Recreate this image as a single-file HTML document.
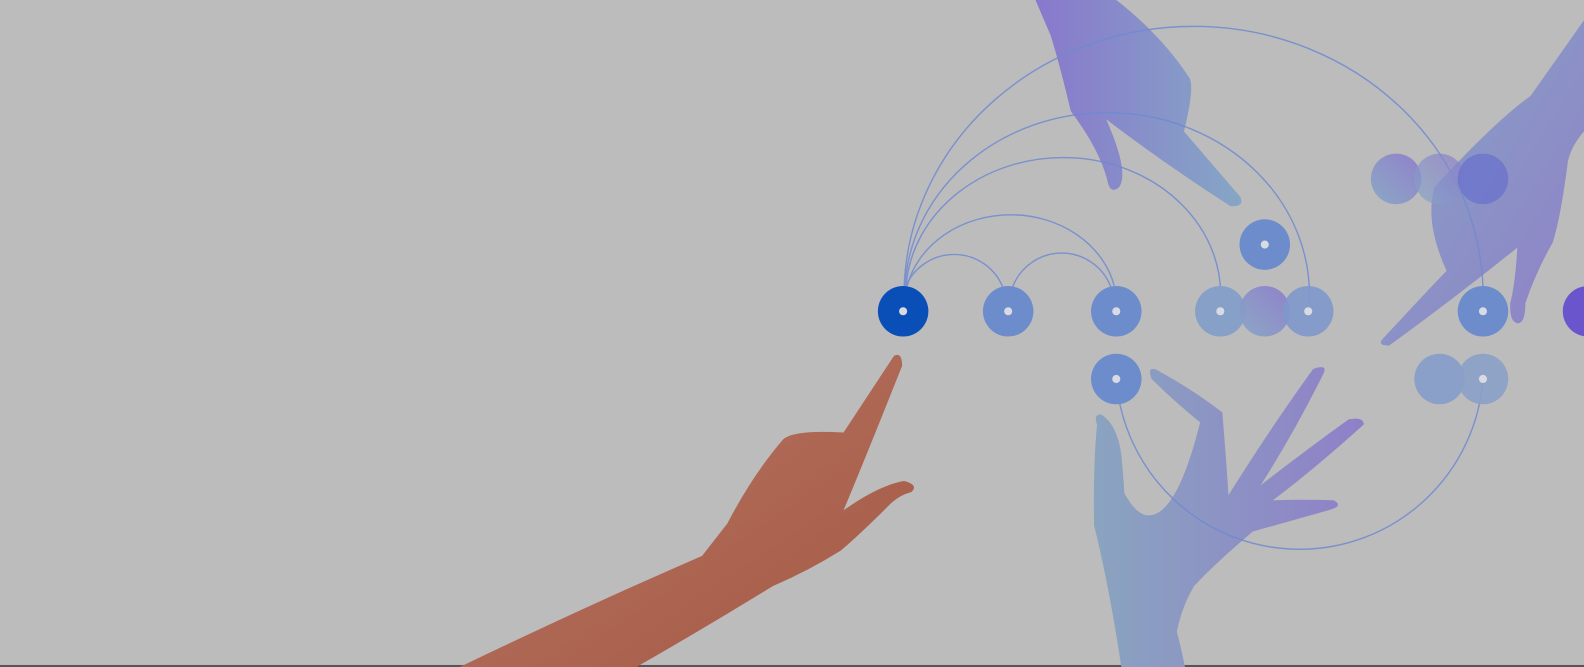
<!DOCTYPE html>
<html><head><meta charset="utf-8"><style>
html,body{margin:0;padding:0;background:#bcbcbc;overflow:hidden}
svg{display:block}
</style></head><body>
<svg width="1584" height="667" viewBox="0 0 1568 660" preserveAspectRatio="none" xmlns="http://www.w3.org/2000/svg">
<defs>
<linearGradient id="gSkin" x1="0" y1="0" x2="1" y2="1"><stop offset="0" stop-color="#b87563"/><stop offset="1" stop-color="#a45a45"/></linearGradient>
<linearGradient id="gBlue" x1="0" y1="0" x2="1" y2="0"><stop offset="0" stop-color="#8aa4c0"/><stop offset="1" stop-color="#8f80c8"/></linearGradient>
<linearGradient id="gTop" x1="0" y1="0" x2="1" y2="0"><stop offset="0" stop-color="#8878cc"/><stop offset="1" stop-color="#86a6c6"/></linearGradient>
<linearGradient id="gRight" x1="0" y1="0" x2="1" y2="1"><stop offset="0" stop-color="#86a4c4"/><stop offset="1" stop-color="#9080c8"/></linearGradient>
<linearGradient id="gDot" x1="0" y1="1" x2="1" y2="0"><stop offset="0" stop-color="#86a6c6"/><stop offset="1" stop-color="#8b7acc"/></linearGradient>
</defs>
<rect x="0" y="0" width="1568" height="660" fill="#bcbcbc"/>
<rect x="0" y="658" width="1568" height="2" fill="#555"/>
<path fill="url(#gTop)" d="M1025 0 L1105 0 Q1150 35 1178 78 Q1182 90 1172 130 L1228 195 Q1232 205 1218 204 Q1150 160 1095 118 Q1118 170 1108 185 Q1100 192 1097 182 Q1090 150 1060 110 Q1048 60 1040 35 Z"/>
<path fill="url(#gRight)" d="M1568 20 L1568 130 Q1555 145 1552 160 Q1545 215 1537 240 Q1520 270 1510 300 Q1510 320 1502 320 Q1494 318 1495 300 Q1500 280 1502 245 Q1440 295 1375 342 Q1362 342 1370 334 Q1420 280 1432 268 Q1410 220 1420 185 Q1480 120 1515 95 Z"/>
<path fill="url(#gBlue)" d="M1110 660 Q1098 580 1083 520 Q1082 460 1086 420 Q1082 410 1090 410 Q1106 420 1110 450 Q1112 470 1113 488 Q1125 510 1137 510 Q1165 510 1188 418 Q1160 395 1140 375 Q1135 362 1145 366 Q1180 385 1210 408 Q1215 470 1216 490 Q1260 420 1300 365 Q1315 360 1310 370 Q1280 430 1248 480 Q1300 440 1335 415 Q1350 412 1350 420 Q1300 465 1260 495 Q1290 494 1320 495 Q1330 500 1318 504 Q1290 512 1240 526 Q1200 560 1182 580 Q1170 600 1165 625 Q1170 645 1173 660 Z"/>
<g fill="none" stroke="#6f8ad0" stroke-width="1.4" opacity="0.85">
<path d="M896 285 A52 52 0 0 1 993 285"/>
<path d="M1002 285 A52 52 0 0 1 1100 285"/>
<path d="M898 283 A105 90 0 0 1 1103 283"/>
<path d="M897 283 A155 135 0 0 1 1208 300"/>
<path d="M896 283 A200 180 0 0 1 1296 300"/>
<path d="M895 285 A285 265 0 0 1 1468 300"/>
<path d="M1105 375 A182 182 0 0 0 1468 375"/>
</g>
<path fill="url(#gSkin)" d="M455 660 Q580 600 695 550 L720 518 Q745 470 775 435 Q785 425 835 428 L885 352 Q893 348 893 362 Q860 445 835 505 Q870 480 895 476 Q910 480 902 487 Q890 490 880 500 Q850 530 832 545 Q800 565 765 580 Q700 620 630 660 Z"/>
<g>
<circle cx="894" cy="308" r="25" fill="#0a4fb8"/>
<circle cx="998" cy="308" r="25" fill="#6d8ccc"/>
<circle cx="1105" cy="308" r="25" fill="#6d8ccc"/>
<circle cx="1105" cy="375" r="25" fill="#6d8ccc"/>
<circle cx="1208" cy="308" r="25" fill="#86a0c8"/>
<circle cx="1252" cy="308" r="25" fill="url(#gDot)" opacity="0.9"/>
<circle cx="1295" cy="308" r="25" fill="#7e98cc" opacity="0.9"/>
<circle cx="1252" cy="242" r="25" fill="#6d8ccc"/>
<circle cx="1382" cy="177" r="25" fill="url(#gDot)" opacity="0.9"/>
<circle cx="1425" cy="177" r="25" fill="url(#gDot)" opacity="0.7"/>
<circle cx="1468" cy="177" r="25" fill="#6a72cc" opacity="0.75"/>
<circle cx="1468" cy="308" r="25" fill="#6d8ccc"/>
<circle cx="1425" cy="375" r="25" fill="#8aa0c8"/>
<circle cx="1468" cy="375" r="25" fill="#8aa0c8" opacity="0.9"/>
<circle cx="1572" cy="308" r="25" fill="#6b55cc"/>
<g fill="#d8dbe4">
<circle cx="894" cy="308" r="4"/><circle cx="998" cy="308" r="4"/><circle cx="1105" cy="308" r="4"/><circle cx="1105" cy="375" r="4"/><circle cx="1208" cy="308" r="4"/><circle cx="1295" cy="308" r="4"/><circle cx="1252" cy="242" r="4"/><circle cx="1468" cy="308" r="4"/><circle cx="1468" cy="375" r="4"/>
</g>
</g>
</svg>
</body></html>
